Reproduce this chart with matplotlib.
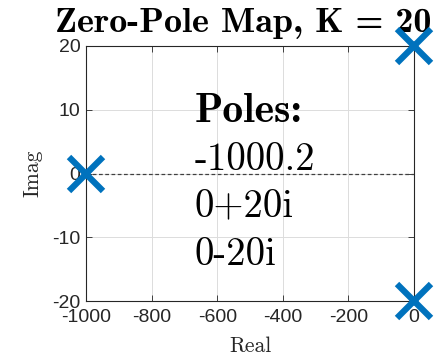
import matplotlib
matplotlib.use('Agg')
import matplotlib.pyplot as plt

# pole locations (real, imag)
pole_re = [-1000.2, 0, 0]
pole_im = [0, 20, -20]
pole_labels = ['-1000.2', '0+20i', '0-20i']
K = 20

xticks = [-1000, -800, -600, -400, -200, 0]
yticks = [-20, -10, 0, 10, 20]

fig = plt.figure(figsize=(4.46, 3.58), dpi=100)
ax = fig.add_axes([86/446, 1 - 301/358, 328/446, 255/358])

ax.axhline(0, color='#404040', lw=0.9, dashes=(3, 2), zorder=3)
ax.plot(pole_re, pole_im, 'x', color='#0072BD', ms=24, mew=4.5, clip_on=False, zorder=5)

ax.set_xlim(-1000, 0)
ax.set_ylim(-20, 20)
ax.set_xticks(xticks)
ax.set_yticks(yticks)
ax.set_xticklabels([str(v) for v in xticks], family='Liberation Sans', fontsize=14)
ax.set_yticklabels([str(v) for v in yticks], family='Liberation Sans', fontsize=14)
ax.tick_params(direction='in', length=4, width=0.6, color='#262626', labelcolor='#262626',
               top=True, right=True)
ax.tick_params(axis='x', pad=5.5)
ax.tick_params(axis='y', pad=4)
ax.grid(True, color='#dcdcdc', lw=0.7)
for s in ax.spines.values():
    s.set_color('#262626')
    s.set_linewidth(0.8)

ax.set_xlabel('Real', family='cmr10', fontsize=15.5, color='#262626')
ax.xaxis.label.set_va('baseline')
ax.xaxis.set_label_coords(0.5, -0.2)
ax.set_ylabel('Imag', family='cmr10', fontsize=15.5, color='#262626')
ax.yaxis.label.set_va('center')
ax.yaxis.set_label_coords(-0.162, 0.5)

ax.text(243/446, 1 - 32/358, 'Zero-Pole Map, K = %d' % K, family='cmb10', fontsize=26,
        ha='center', va='baseline', transform=fig.transFigure, zorder=3)

ax.text(-668, 8.1, 'Poles:', family='cmb10', fontsize=30, va='baseline')
for i, lab in enumerate(pole_labels):
    ax.text(-668, 0.55 - 7.45 * i, lab, family='cmr10', fontsize=28, va='baseline')

fig.savefig('out.png', dpi=100)
